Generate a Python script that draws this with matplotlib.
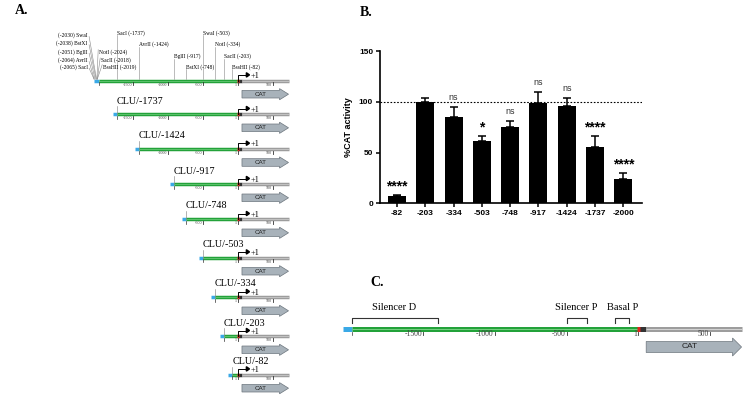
import matplotlib
matplotlib.use("Agg")
import matplotlib.pyplot as plt
from matplotlib.patches import Polygon

# ---------------- data ----------------
# Panel B: relative CAT activity of the deletion constructs.
bar_labels = ["-82", "-203", "-334", "-503", "-748", "-917", "-1424", "-1737", "-2000"]
cat_activity = [7, 100, 85, 61, 75, 99, 95.5, 55, 24]
cat_sem = [1.5, 4, 10, 5.5, 6.5, 11, 8.5, 11, 5.5]
significance = ["****", "", "ns", "*", "ns", "ns", "ns", "****", "****"]
reference_level = 100
y_ticks = [0, 50, 100, 150]

# Panel A: promoter constructs (5' end, bp relative to +1).
full_start = -2000
deletion_starts = [-1737, -1424, -917, -748, -503, -334, -203, -82]
cat_end = 725
vector_overhang = 60

# Restriction sites on the full-length construct.
cluster_left = [("SwaI", -2030), ("BstXI", -2038), ("BglII", -2051),
                ("AvrII", -2064), ("SacI", -2065)]
cluster_right = [("NotI", -2024), ("SacII", -2018), ("BssHII", -2019)]
sites = [("SacI", -1737), ("AvrII", -1424), ("BglII", -917), ("BstXI", -748),
         ("SwaI", -503), ("NotI", -334), ("SacII", -203), ("BssHII", -82)]

# Panel C: regulatory regions.
regions = [("Silencer D", -2000, -1400), ("Silencer P", -500, -360),
           ("Basal P", -160, -65)]
scale_ticks = [-1500, -1000, -500, 1, 500]

# ---------------- style ----------------
GREEN = "#23a23a"
GREEN_LIGHT = "#74cf80"
BLUE = "#3aa9e6"
GRAY = "#9d9d9d"
GRAY_LIGHT = "#d2d2d2"
RED = "#e0261e"
ARROW_FILL = "#a8b2ba"
ARROW_EDGE = "#6c757d"
SERIF = "Liberation Serif"
SANS = "Liberation Sans"

W, H = 756, 409
fig = plt.figure(figsize=(W / 100, H / 100), dpi=100)


def px_axes(x0, x1, y0, y1, scale, origin):
    # Axes in bp along x and pixels (from top) along y.
    ax = fig.add_axes([x0 / W, 1 - y1 / H, (x1 - x0) / W, (y1 - y0) / H])
    ax.set_xlim((x0 - origin) / scale, (x1 - origin) / scale)
    ax.set_ylim(y1, y0)
    ax.axis("off")
    return ax


def draw_construct(ax, start, y, scale, lw, tick_size, tick_labels):
    px = 1 / scale
    ax.plot([start - vector_overhang, start], [y, y], color=BLUE, lw=lw,
            solid_capstyle="butt")
    ax.plot([start, 1], [y, y], color=GREEN, lw=lw, solid_capstyle="butt")
    ax.plot([start, 1], [y, y], color=GREEN_LIGHT, lw=lw * 0.2,
            solid_capstyle="butt")
    ax.plot([1, 55], [y, y], color="#333333", lw=lw, solid_capstyle="butt")
    ax.plot([55, cat_end], [y, y], color=GRAY, lw=lw, solid_capstyle="butt")
    ax.plot([55, cat_end], [y, y], color=GRAY_LIGHT, lw=lw * 0.2,
            solid_capstyle="butt")
    ax.plot([-1.5 * px, 12], [y, y], color=RED, lw=lw, solid_capstyle="butt")
    # Scale ticks under the line.
    dy = lw * 1.39 / 2
    ax.plot([start, start], [y + dy, y + dy + 3], color="#333333", lw=0.5)
    for t in tick_labels:
        ax.plot([t, t], [y + dy, y + dy + 3], color="#333333", lw=0.6)
        ax.text(t - 1.2 * px, y + dy + 2.2, str(t), fontsize=tick_size,
                family=SERIF, ha="right", va="center", color="#444444")


def draw_cat(ax, y, scale, x0, x1, body, head, size):
    head_len = 9 / scale
    pts = [(x0, y - body), (x1 - head_len, y - body), (x1 - head_len, y - head),
           (x1, y), (x1 - head_len, y + head), (x1 - head_len, y + body),
           (x0, y + body)]
    ax.add_patch(Polygon(pts, closed=True, facecolor=ARROW_FILL,
                         edgecolor=ARROW_EDGE, lw=0.5))
    ax.text((x0 + x1 - head_len) / 2, y, "CAT", fontsize=size, family=SANS,
            ha="center", va="center", color="#222222")


# ---------------- panel A ----------------
scale_a = 0.0697
axa = px_axes(0, 320, 0, H, scale_a, 238)
pxa = 1 / scale_a
row_y = [80.7, 114.3, 149, 184.3, 219.3, 257.7, 297.3, 336.3, 374.7]
starts = [full_start] + deletion_starts

for i, (start, y) in enumerate(zip(starts, row_y)):
    labels = [t for t in (-1500, -1000, -500) if t > start + 50] + [1, 500]
    draw_construct(axa, start, y, scale_a, 2.5, 3, labels)
    draw_cat(axa, y + 13.5, scale_a, 57, cat_end, 3.8, 5.6, 4.5)
    # +1 transcription start arrow
    axa.plot([1, 1, 120], [y, y - 5.8, y - 5.8], color="black", lw=0.7)
    axa.add_patch(Polygon([(120, y - 8), (165, y - 5.8), (120, y - 3.6)],
                          closed=True, color="black"))
    axa.text(185, y - 8.6, "+1", fontsize=6, family=SERIF, ha="left",
             va="top")
    if i > 0:
        axa.plot([start, start], [y - 8, y], color="#777777", lw=0.4)
        axa.text(start, y - 8.8, "CLU/" + str(start), fontsize=7.3,
                 family=SERIF, ha="left", va="bottom")

# restriction sites
top_y = row_y[0]
levels = [32.7, 44, 56, 66.7]
for i, (name, pos) in enumerate(sites):
    ly = levels[i % 4]
    axa.text(pos, ly, f"{name} ({pos})", fontsize=4, family=SERIF,
             ha="left", va="center")
    axa.plot([pos, pos], [ly + 2.5, top_y - 1.5], color="#888888", lw=0.4)

for i, (name, pos) in enumerate(cluster_left):
    ly = [35, 43.3, 51.7, 60, 66.7][i]
    xt = -2000 - 11 * pxa
    axa.text(xt, ly, f"({pos}) {name}", fontsize=4, family=SERIF,
             ha="right", va="center")
    axa.plot([xt + 1.5 * pxa, pos], [ly + 1.5, top_y - 1.5], color="#888888",
             lw=0.4)

for i, (name, pos) in enumerate(cluster_right):
    ly = [51.7, 60, 66.7][i]
    xt = -2000 + (0.8 + 2 * i) * pxa
    axa.text(xt, ly, f"{name} ({pos})", fontsize=4, family=SERIF,
             ha="left", va="center")
    axa.plot([xt - 1.2 * pxa, pos], [ly - 2, top_y - 1.5], color="#888888",
             lw=0.4)

fig.text(15 / W, 1 - 11 / H, "A.", fontsize=10, family=SERIF,
         fontweight="bold", va="center")

# ---------------- panel B ----------------
axb = fig.add_axes([380 / W, 1 - 203.3 / H, 262 / W, (203.3 - 51) / H])
x = list(range(len(bar_labels)))
axb.bar(x, cat_activity, width=0.64, color="black", zorder=2)
axb.errorbar(x, cat_activity, yerr=[[0] * len(x), cat_sem], fmt="none",
             ecolor="black", elinewidth=1.1, capsize=2.8, capthick=1.1,
             zorder=3)
axb.axhline(reference_level, color="black", lw=0.8, ls=(0, (1.5, 1.5)),
            zorder=1)
for xi, v, e, s in zip(x, cat_activity, cat_sem, significance):
    if not s:
        continue
    if s == "ns":
        axb.text(xi, v + e + 9, s, ha="center", va="center", fontsize=6.5,
                 family=SANS, color="#333333")
    else:
        axb.text(xi, v + e + 8.5, s, ha="center", va="center", fontsize=10,
                 family=SANS, fontweight="bold")
axb.set_xlim(-0.6, 8.66)
axb.set_ylim(0, 150)
axb.set_yticks(y_ticks)
axb.set_xticks(x)
axb.set_xticklabels(bar_labels)
for lab in axb.get_xticklabels() + axb.get_yticklabels():
    lab.set_fontfamily(SANS)
    lab.set_fontweight("bold")
    lab.set_fontsize(6)
axb.tick_params(direction="out", length=3, width=1.1, pad=2)
axb.spines["top"].set_visible(False)
axb.spines["right"].set_visible(False)
axb.spines["left"].set_linewidth(1.2)
axb.spines["bottom"].set_linewidth(1.2)
axb.set_ylabel("%CAT activity", fontsize=6.5, family=SANS, fontweight="bold",
               labelpad=4)
fig.text(360 / W, 1 - 12 / H, "B.", fontsize=10, family=SERIF,
         fontweight="bold", va="center")

# ---------------- panel C ----------------
scale_c = 0.1434
axc = px_axes(330, W, 270, H, scale_c, 638.3)
pxc = 1 / scale_c
line_c = 329
draw_construct(axc, full_start, line_c, scale_c, 3.6, 5.5, scale_ticks)
draw_cat(axc, 347, scale_c, 55, 720, 5.5, 9, 6)
for name, a, b in regions:
    axc.plot([a, a, b, b], [323.3, 318.3, 318.3, 323.3], color="#333333",
             lw=0.8)
    axc.text((a + b) / 2, 307.3, name, fontsize=7.5, family=SERIF,
             ha="center", va="center")
fig.text(370 / W, 1 - 282 / H, "C.", fontsize=10, family=SERIF,
         fontweight="bold", va="center")

fig.savefig("out.png", dpi=100)
